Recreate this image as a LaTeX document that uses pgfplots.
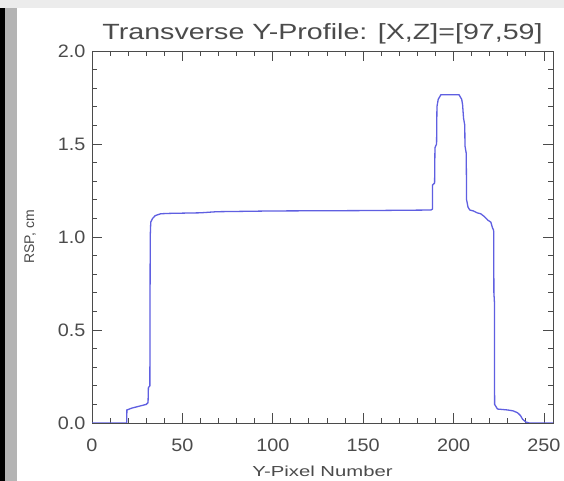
\documentclass[border=0pt]{standalone}
\usepackage{pgfplots}
\pgfplotsset{compat=1.18}
\usepackage{fontspec}
\setmainfont{Liberation Sans}
\newfontfamily\titlefont[FakeStretch=1.3]{Liberation Sans}
\newfontfamily\labfont[FakeStretch=1.4]{Liberation Sans}
\newfontfamily\tickfont[FakeStretch=1.1]{Liberation Sans}
\definecolor{idltext}{RGB}{75,75,75}
\definecolor{idlline}{RGB}{95,95,225}
\definecolor{stripgray}{RGB}{236,236,236}
\definecolor{bargray}{RGB}{180,180,180}

\begin{document}
\begin{tikzpicture}[x=1pt,y=1pt]
% page frame: white field, light strip on top, dark bars on the left
\fill[white] (0,0) rectangle (564,481);
\fill[stripgray] (0,473) rectangle (564,481);
\fill[black] (0,0) rectangle (5,473);
\fill[bargray] (5,0) rectangle (17,473);
\path[use as bounding box] (0,0) rectangle (564,481);

\begin{axis}[
    at={(92pt,58pt)}, anchor=south west,
    scale only axis,
    width=461pt, height=372pt,
    xmin=0, xmax=255,
    ymin=0, ymax=2,
    xtick={0,50,...,250},
    ytick={0,0.5,1,1.5,2},
    minor x tick num=4,
    minor y tick num=4,
    tick align=inside,
    major tick length=10pt,
    minor tick length=5pt,
    axis line style={idltext, line width=0.9pt},
    every tick/.style={idltext, line width=0.9pt},
    ticklabel style={font=\tickfont\fontsize{18}{20}\selectfont, text=idltext},
    /pgf/number format/assume math mode=true,
    yticklabel style={/pgf/number format/fixed,
        /pgf/number format/fixed zerofill,
        /pgf/number format/precision=1, xshift=-3pt},
    xticklabel style={yshift=-12pt},
    title={Transverse Y-Profile: [X,Z]=[97,59]},
    title style={font=\titlefont\fontsize{22}{26}\selectfont, text=idltext,
        at={(axis description cs:0.5,1)}, anchor=base, yshift=5pt},
    xlabel={Y-Pixel Number},
    xlabel style={font=\labfont\fontsize{14.5}{17}\selectfont, text=idltext,
        at={(axis description cs:0.5,0)}, anchor=center, yshift=-48pt},
    ylabel={RSP, cm},
    ylabel style={font=\fontsize{14}{16}\selectfont, text=idltext,
        at={(axis description cs:-0.134,0.5)}, anchor=center},
]
\addplot[idlline, line width=1.3pt] coordinates {
    (0,0) (19.2,0) (19.3,0.07) (22,0.08) (26,0.09) (30,0.10) (31,0.11)
    (31.2,0.19) (32,0.20) (32.2,1.00) (32.5,1.08) (33.5,1.10) (35,1.115)
    (38,1.125) (43,1.127) (60,1.13) (69,1.136) (100,1.14) (150,1.142)
    (187.5,1.145) (188.3,1.15) (188.4,1.28) (189.5,1.29) (189.7,1.48)
    (190.6,1.50) (190.8,1.70) (191.5,1.74) (193,1.765) (203,1.765)
    (204.5,1.74) (205,1.71) (205.5,1.64) (206.2,1.60) (206.3,1.49)
    (207,1.45) (207.2,1.20) (208,1.16) (209,1.145) (211,1.14) (213,1.13)
    (215,1.125) (217,1.11) (219,1.09) (220.6,1.08) (221.5,1.05) (222,1.04)
    (222.2,1.03) (222.3,0.70) (222.6,0.65) (222.7,0.10) (224.3,0.075)
    (230,0.07) (233,0.065) (235.4,0.055) (237,0.04) (238.2,0.02)
    (240,0.005) (242,0) (255,0)
};
\end{axis}
\end{tikzpicture}
\end{document}
